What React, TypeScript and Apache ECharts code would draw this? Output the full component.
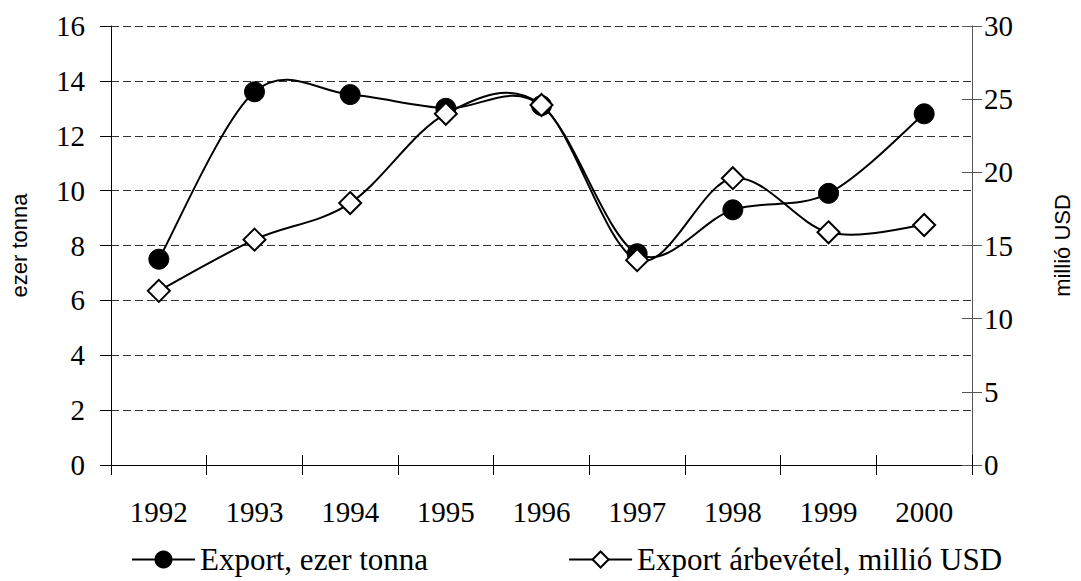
import React, { useEffect, useRef } from "react";
import * as echarts from "echarts";

const years = ["1992", "1993", "1994", "1995", "1996", "1997", "1998", "1999", "2000"];
const exportTonnes = [7.5, 13.6, 13.5, 13.0, 13.1, 7.7, 9.3, 9.9, 12.8];
const exportRevenue = [11.9, 15.4, 17.9, 24.0, 24.6, 14.0, 19.6, 15.9, 16.4];
const seriesNames = ["Export, ezer tonna", "Export árbevétel, millió USD"];
const leftAxisName = "ezer tonna";
const rightAxisName = "millió USD";

const serif = "'Liberation Serif', 'Times New Roman', serif";
const sans = "'Liberation Sans', Arial, sans-serif";

// Catmull-Rom style smoothing (like a spreadsheet's smoothed line), one bezier per segment
function makeCurveRenderer(values: number[]) {
  return (params: any, api: any) => {
    const i = params.dataIndex;
    const n = values.length;
    const pt = (k: number) => {
      const c = Math.max(0, Math.min(n - 1, k));
      return api.coord([c, values[c]]);
    };
    const p0 = pt(i - 1);
    const p1 = pt(i);
    const p2 = pt(i + 1);
    const p3 = pt(i + 2);
    const cp1 = [p1[0] + (p2[0] - p0[0]) / 6, p1[1] + (p2[1] - p0[1]) / 6];
    const cp2 = [p2[0] - (p3[0] - p1[0]) / 6, p2[1] - (p3[1] - p1[1]) / 6];
    return {
      type: "bezierCurve",
      shape: {
        x1: p1[0],
        y1: p1[1],
        x2: p2[0],
        y2: p2[1],
        cpx1: cp1[0],
        cpy1: cp1[1],
        cpx2: cp2[0],
        cpy2: cp2[1],
      },
      style: { stroke: "#000", lineWidth: 2, fill: null },
    };
  };
}

export default function App() {
  const ref = useRef<HTMLDivElement>(null);
  useEffect(() => {
    if (!ref.current) return;
    const chart = echarts.init(ref.current, undefined, { renderer: "svg" });
    const tickStyle = { color: "#000", width: 1 };
    const legendLine = { color: "#000", width: 2, opacity: 1, type: "solid" };
    chart.setOption({
      animation: false,
      backgroundColor: "#fff",
      grid: { left: 99, right: 92, top: 26, bottom: 116, containLabel: false },
      legend: {
        top: 539,
        left: 126,
        itemWidth: 63,
        itemHeight: 20,
        itemGap: 140,
        textStyle: { fontFamily: serif, fontSize: 31, color: "#000" },
        data: [
          { name: seriesNames[0], lineStyle: legendLine },
          { name: seriesNames[1], lineStyle: legendLine },
        ],
      },
      xAxis: [
        {
          type: "category",
          data: years,
          boundaryGap: true,
          axisLine: { lineStyle: { color: "#000", width: 1 } },
          axisTick: { show: true, length: 10, lineStyle: tickStyle },
          axisLabel: { fontFamily: serif, fontSize: 29, color: "#000", margin: 32 },
          splitLine: { show: false },
        },
        {
          type: "category",
          data: years,
          position: "bottom",
          boundaryGap: true,
          axisLine: { show: false },
          axisTick: { show: true, inside: true, length: 10, lineStyle: tickStyle },
          axisLabel: { show: false },
          splitLine: { show: false },
        },
      ],
      yAxis: [
        {
          type: "value",
          min: 0,
          max: 16,
          interval: 2,
          position: "left",
          name: leftAxisName,
          nameLocation: "middle",
          nameGap: 81,
          nameTextStyle: { fontFamily: sans, fontSize: 22, color: "#000" },
          axisLine: { show: true, lineStyle: { color: "#000", width: 1 } },
          axisTick: { show: true, length: 11, lineStyle: tickStyle },
          axisLabel: { fontFamily: serif, fontSize: 29, color: "#000", margin: 26 },
          splitLine: { show: true, lineStyle: { color: "#333", type: [8, 4], width: 1 } },
        },
        {
          type: "value",
          min: 0,
          max: 30,
          interval: 5,
          position: "right",
          name: rightAxisName,
          nameLocation: "middle",
          nameGap: 79,
          nameRotate: 90,
          nameTextStyle: { fontFamily: sans, fontSize: 22, color: "#000" },
          axisLine: { show: true, lineStyle: { color: "#555", width: 1 } },
          axisTick: { show: true, length: 10, lineStyle: { color: "#555", width: 1 } },
          axisLabel: { fontFamily: serif, fontSize: 29, color: "#000", margin: 12 },
          splitLine: { show: false },
        },
        {
          type: "value",
          min: 0,
          max: 30,
          interval: 5,
          position: "right",
          axisLine: { show: false },
          axisTick: { show: true, inside: true, length: 10, lineStyle: { color: "#555", width: 1 } },
          axisLabel: { show: false },
          splitLine: { show: false },
        },
      ],
      series: [
        {
          name: "curve-tonnes",
          type: "custom",
          xAxisIndex: 0,
          yAxisIndex: 0,
          data: exportTonnes.slice(0, -1).map((v, i) => [i, v]),
          encode: { x: 0, y: 1 },
          renderItem: makeCurveRenderer(exportTonnes),
          silent: true,
          z: 2,
        },
        {
          name: "curve-revenue",
          type: "custom",
          xAxisIndex: 0,
          yAxisIndex: 1,
          data: exportRevenue.slice(0, -1).map((v, i) => [i, v]),
          encode: { x: 0, y: 1 },
          renderItem: makeCurveRenderer(exportRevenue),
          silent: true,
          z: 2,
        },
        {
          name: seriesNames[0],
          type: "line",
          data: exportTonnes,
          xAxisIndex: 0,
          yAxisIndex: 0,
          symbol: "circle",
          symbolSize: 20,
          lineStyle: { color: "#000", width: 2, opacity: 0 },
          itemStyle: { color: "#000", borderColor: "#000", borderWidth: 1 },
          z: 3,
        },
        {
          name: seriesNames[1],
          type: "line",
          data: exportRevenue,
          xAxisIndex: 0,
          yAxisIndex: 1,
          symbol: "diamond",
          symbolSize: 22,
          lineStyle: { color: "#000", width: 2, opacity: 0 },
          itemStyle: { color: "#fff", borderColor: "#000", borderWidth: 2 },
          z: 4,
        },
      ],
    });
    return () => chart.dispose();
  }, []);
  return (
    <div
      ref={ref}
      style={{ position: "fixed", left: 0, top: 0, width: 1081, height: 581 }}
    />
  );
}
